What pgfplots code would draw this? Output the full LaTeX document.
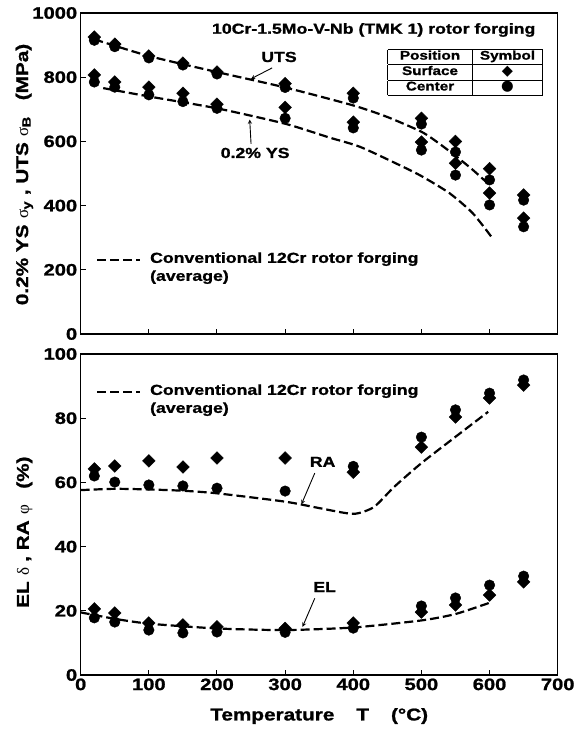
\documentclass[border=0pt]{standalone}
\usepackage{fontspec}
\setmainfont{Liberation Sans}[FakeStretch=1.22, BoldFeatures={FakeBold=1.2}]
\newfontfamily\grk{Liberation Serif}
\newfontfamily\sym{DejaVu Sans}
\usepackage{pgfplots}
\pgfplotsset{compat=1.18}
\pgfplotstableread{
T s c
20 925 915
50 903 895
100 866 860
150 844 838
200 816 810
300 780 768
400 750 735
500 672 654
550 600 567
600 515 480
650 433 417
}\uts
\pgfplotstableread{
T s c
20 807 785
50 785 769
100 769 745
150 750 724
200 716 703
300 706 672
400 660 642
500 598 573
550 532 495
600 439 402
650 361 334
}\ys
\pgfplotstableread{
T s c
20 64.2 62.0
50 65.1 60.1
100 66.7 59.2
150 64.8 58.9
200 67.6 58.2
300 67.6 57.3
400 63.2 65.0
500 71.0 74.1
550 80.4 82.6
600 86.3 87.8
650 90.3 91.9
}\ra
\pgfplotstableread{
T s c
20 20.6 17.8
50 19.3 16.5
100 16.2 14.0
150 15.6 13.1
200 15.0 13.4
300 14.5 13.3
400 16.2 14.6
500 19.6 21.5
550 21.8 24.0
600 24.9 28.0
650 29.0 30.8
}\el
\tikzset{
  conv/.style={black, line width=2.2pt, dash pattern=on 9pt off 4pt},
  ann/.style={font=\fontsize{14.5}{18}\selectfont\bfseries, inner sep=0pt},
}
\begin{document}
\begin{tikzpicture}
\pgfplotsset{
  base/.style={scale only axis, width=477pt, height=321pt,
    xmin=0, xmax=700, xtick={0,100,...,700},
    tick align=inside, xtick pos=bottom, ytick pos=left,
    major tick length=5pt,
    axis line style={line width=1.4pt},
    every tick/.style={line width=1pt, black},
    /pgf/number format/assume math mode=true,
    /pgf/number format/1000 sep={},
    ticklabel style={font=\fontsize{16.5}{18}\selectfont\bfseries},
    clip=false},
  surf/.style={only marks, mark=square*, mark size=4.5pt, mark options={rotate=45, fill=black, draw=black}},
  cent/.style={only marks, mark=*, mark size=5.3pt, mark options={fill=black, draw=black}},
}
% bottom panel
\begin{axis}[base, name=bot, at={(0pt,0pt)}, anchor=south west,
  ymin=0, ymax=100, ytick={0,20,...,100},
  xlabel={Temperature\hspace{22pt}T\hspace{22pt}(°C)},
  xlabel style={font=\fontsize{17}{20}\selectfont\bfseries, yshift=-11pt},
  ylabel={EL {\mdseries\grk δ} , RA {\mdseries\grk φ}\hspace{16pt}(\%)},
  ylabel style={font=\fontsize{17}{20}\selectfont\bfseries, at={(axis description cs:-0.118,0.445)}, anchor=center},
]
\addplot[conv, no marks, smooth, tension=0.4] coordinates {(0,57.6) (50,58) (100,57.8) (150,57.4) (200,56.6) (300,54) (350,52) (400,50.2) (430,52.3) (460,58.6) (500,66) (550,74.2) (598,82)};
\addplot[conv, no marks, smooth, tension=0.4] coordinates {(0,19.5) (50,17.5) (100,16) (200,14.5) (300,14) (400,14.8) (500,17) (550,19) (600,22.5)};
\addplot[surf] table[x=T,y=s] {\ra};
\addplot[cent] table[x=T,y=c] {\ra};
\addplot[surf] table[x=T,y=s] {\el};
\addplot[cent] table[x=T,y=c] {\el};
\draw[conv] (axis cs:24,88.2) -- (axis cs:87,88.2);
\node[ann, anchor=north west, align=left] at (axis cs:101.6,90.6) {Conventional 12Cr rotor forging\\(average)};
\node[ann] at (axis cs:355,66.4) {RA};
\draw[-stealth, line width=0.9pt] (axis cs:343.5,62.9) -- (axis cs:324,53.2);
\node[ann] at (axis cs:358,27.4) {EL};
\draw[-stealth, line width=0.9pt] (axis cs:343.5,23.9) -- (axis cs:325.5,15);
\end{axis}
% top panel
\begin{axis}[base, name=top, at={(0pt,341pt)}, anchor=south west,
  ymin=0, ymax=1000, ytick={0,200,...,1000}, xticklabels={},
  ylabel={0.2\% YS {\mdseries\grk σ}\textsubscript{y} , UTS {\mdseries\grk σ}\textsubscript{B}\hspace{16pt}(MPa)},
  ylabel style={font=\fontsize{17}{20}\selectfont\bfseries, at={(axis description cs:-0.118,0.497)}, anchor=center},
]
\addplot[conv, no marks, smooth, tension=0.4] coordinates {(20,918) (100,866) (200,816) (300,768) (400,712) (450,676) (500,630) (525,595) (550,555) (575,512) (598,468)};
\addplot[conv, no marks, smooth, tension=0.4] coordinates {(33,766) (100,740) (200,703) (300,655) (365,612) (410,583) (468,526) (500,492) (541,439) (575,377) (603,302)};
\addplot[surf] table[x=T,y=s] {\uts};
\addplot[cent] table[x=T,y=c] {\uts};
\addplot[surf] table[x=T,y=s] {\ys};
\addplot[cent] table[x=T,y=c] {\ys};
\node[ann] at (axis cs:430,947) {10Cr-1.5Mo-V-Nb (TMK 1) rotor forging};
\node[ann] at (axis cs:291,863) {UTS};
\draw[-stealth, line width=0.9pt] (axis cs:281,829) -- (axis cs:250,795);
\node[ann] at (axis cs:256,564) {0.2\% YS};
\draw[-stealth, line width=0.9pt] (axis cs:250,592) -- (axis cs:248,668);
\draw[conv] (axis cs:24,230) -- (axis cs:87,230);
\node[ann, anchor=north west, align=left] at (axis cs:101.6,255) {Conventional 12Cr rotor forging\\(average)};
\node[inner sep=0pt, font=\fontsize{12.5}{14}\selectfont\bfseries] at (axis cs:564,815) {%
  \setlength\tabcolsep{0pt}\setlength\arrayrulewidth{1.1pt}%
  \begin{tabular}{|c|c|}\hline
  \rule[-4.5pt]{0pt}{12.5pt}\makebox[85pt]{Position} & \makebox[70pt]{Symbol}\\\hline
  \rule[-4.5pt]{0pt}{12.5pt}Surface & {\sym\mdseries\fontsize{14.5}{14}\selectfont ◆}\\\hline
  \rule[-4.5pt]{0pt}{12.5pt}Center & {\sym\mdseries\fontsize{14.5}{14}\selectfont ●}\\\hline
  \end{tabular}};
\end{axis}
\path[use as bounding box] (-80.7pt,-56pt) rectangle (491.3pt,675pt);
\end{tikzpicture}
\end{document}
